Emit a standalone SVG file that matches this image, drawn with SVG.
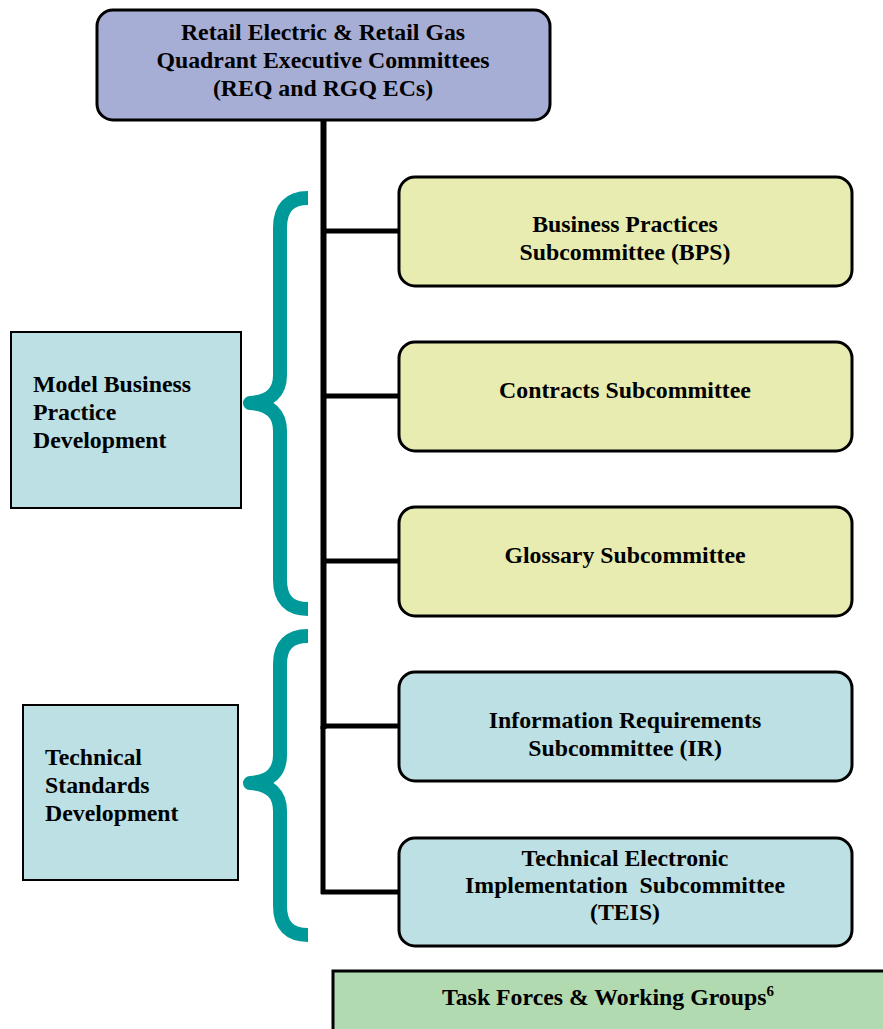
<svg xmlns="http://www.w3.org/2000/svg" width="883" height="1029" viewBox="0 0 883 1029">
<style>
text{font-family:"Liberation Serif","Times New Roman",serif;font-weight:bold;font-size:23.8px;fill:#000}
.c{text-anchor:middle}
.top{fill:#a7aed5;stroke:#000;stroke-width:3}
.yel{fill:#e8ecb1;stroke:#000;stroke-width:3}
.blu{fill:#bce0e3;stroke:#000;stroke-width:3}
.side{fill:#bce0e3;stroke:#000;stroke-width:2}
.tf{fill:#b2dab0;stroke:#000;stroke-width:3}
.br{fill:none;stroke:#009999;stroke-width:14;stroke-linejoin:round}
.ln{stroke:#000;fill:none}
</style>
<g id="connectors">
<line class="ln" x1="323.5" y1="120" x2="323.5" y2="729" stroke-width="6"/>
<line class="ln" x1="323" y1="726" x2="323" y2="894" stroke-width="5"/>
<line class="ln" x1="321" y1="231" x2="400" y2="231" stroke-width="5"/>
<line class="ln" x1="321" y1="396" x2="400" y2="396" stroke-width="5"/>
<line class="ln" x1="321" y1="561" x2="400" y2="561" stroke-width="5"/>
<line class="ln" x1="321" y1="726" x2="400" y2="726" stroke-width="5"/>
<line class="ln" x1="321" y1="892" x2="400" y2="892" stroke-width="5"/>
</g>
<g id="brace1"><path class="br" d="M308,198 Q280,198 280,228 L280,375 Q280,401 250,403 Q280,405 280,431 L280,580 Q280,609 308,609"/></g>
<g id="brace2"><path class="br" d="M308,636 Q280,636 280,664 L280,755 Q280,781 250,783 Q280,785 280,811 L280,906 Q280,935 308,935"/></g>
<g id="ec"><rect class="top" x="97" y="10" width="453" height="110" rx="16"/>
<text class="c" x="323" y="40">Retail Electric &amp; Retail Gas</text>
<text class="c" x="323" y="68">Quadrant Executive Committees</text>
<text class="c" x="323" y="96">(REQ and RGQ ECs)</text></g>
<g id="bps"><rect class="yel" x="399" y="177" width="453" height="109" rx="16"/>
<text class="c" x="625" y="232">Business Practices</text>
<text class="c" x="625" y="260">Subcommittee (BPS)</text></g>
<g id="contracts"><rect class="yel" x="399" y="342" width="453" height="109" rx="16"/>
<text class="c" x="625" y="398">Contracts Subcommittee</text></g>
<g id="glossary"><rect class="yel" x="399" y="507" width="453" height="109" rx="16"/>
<text class="c" x="625" y="563">Glossary Subcommittee</text></g>
<g id="ir"><rect class="blu" x="399" y="672" width="453" height="109" rx="16"/>
<text class="c" x="625" y="728">Information Requirements</text>
<text class="c" x="625" y="756">Subcommittee (IR)</text></g>
<g id="teis"><rect class="blu" x="399" y="838" width="453" height="108" rx="16"/>
<text class="c" x="625" y="866">Technical Electronic</text>
<text class="c" x="625" y="893" xml:space="preserve">Implementation  Subcommittee</text>
<text class="c" x="625" y="920">(TEIS)</text></g>
<g id="mbpd"><rect class="side" x="11" y="332" width="230" height="176"/>
<text x="33" y="392">Model Business</text>
<text x="33" y="420">Practice</text>
<text x="33" y="448">Development</text></g>
<g id="tsd"><rect class="side" x="23" y="705" width="215" height="175"/>
<text x="45" y="765">Technical</text>
<text x="45" y="793">Standards</text>
<text x="45" y="821">Development</text></g>
<g id="tf"><rect class="tf" x="333" y="971" width="560" height="70"/>
<text class="c" x="608" y="1005">Task Forces &amp; Working Groups<tspan font-size="15" dy="-9">6</tspan></text></g>
</svg>
